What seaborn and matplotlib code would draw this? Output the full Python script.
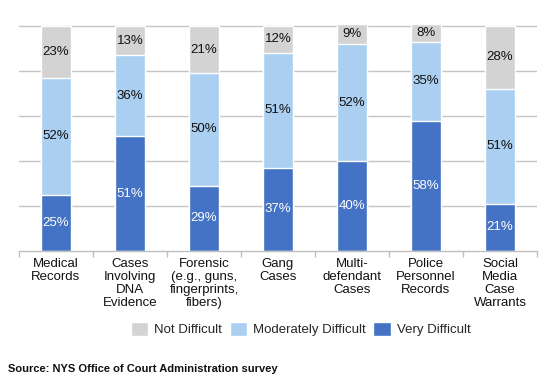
import numpy as np
import matplotlib
matplotlib.use("Agg")
import matplotlib.pyplot as plt
from matplotlib.patches import Patch
import pandas as pd
import seaborn as sns

categories = ["Medical\nRecords", "Cases\nInvolving\nDNA\nEvidence",
              "Forensic\n(e.g., guns,\nfingerprints,\nfibers)", "Gang\nCases",
              "Multi-\ndefendant\nCases", "Police\nPersonnel\nRecords",
              "Social\nMedia\nCase\nWarrants"]
very = [25, 51, 29, 37, 40, 58, 21]
moderate = [52, 36, 50, 51, 52, 35, 51]
not_diff = [23, 13, 21, 12, 9, 8, 28]

c_not = "#D3D3D3"
c_mod = "#AACFF0"
c_very = "#4472C4"

df = pd.DataFrame({"cat": categories, "very": very, "moderate": moderate, "not": not_diff})
df["cum_mod"] = df["very"] + df["moderate"]
df["cum_not"] = df["cum_mod"] + df["not"]

sns.set_theme(style="white")
plt.rcParams["font.family"] = ["Liberation Sans", "DejaVu Sans"]

fig = plt.figure(figsize=(5.55, 3.82), dpi=100)
ax = fig.add_axes([19/555, 1-251/382, 518/555, (251-21.5)/382])

# stacked bars drawn as cumulative layers, tallest first
sns.barplot(data=df, x="cat", y="cum_not", color=c_not, width=0.4, saturation=1,
            errorbar=None, ax=ax)
sns.barplot(data=df, x="cat", y="cum_mod", color=c_mod, width=0.4, saturation=1,
            errorbar=None, ax=ax)
sns.barplot(data=df, x="cat", y="very", color=c_very, width=0.4, saturation=1,
            errorbar=None, ax=ax)

# segment labels
for i, row in df.iterrows():
    ax.text(i, row["very"]/2, f"{row['very']}%", ha="center", va="center",
            color="white", fontsize=9.5)
    ax.text(i, row["very"] + row["moderate"]/2, f"{row['moderate']}%", ha="center",
            va="center", color="#111111", fontsize=9.5)
    ax.text(i, row["cum_mod"] + row["not"]/2, f"{row['not']}%", ha="center",
            va="center", color="#111111", fontsize=9.5)

ax.set_ylim(0, 102)
ax.set_xlim(-0.5, len(categories) - 0.5)
ax.set_yticks([])
for y in [20, 40, 60, 80, 100]:
    ax.axhline(y, color="#c4c4c4", lw=1, zorder=0)
ax.set_axisbelow(True)

for s in ["top", "right", "left"]:
    ax.spines[s].set_visible(False)
ax.spines["bottom"].set_color("#bfbfbf")
ax.spines["bottom"].set_linewidth(1)

ax.set_xlabel("")
ax.set_ylabel("")
ax.set_xticks(range(len(categories)))
ax.set_xticklabels(categories, fontsize=9.5, linespacing=1.12, color="#111111")
ax.set_xticks(np.arange(-0.5, len(categories)), minor=True)
ax.tick_params(axis="x", which="major", length=0, pad=5)
ax.tick_params(axis="x", which="minor", length=4, width=1, color="#bfbfbf", bottom=True)

handles = [Patch(facecolor=c_not, label="Not Difficult"),
           Patch(facecolor=c_mod, label="Moderately Difficult"),
           Patch(facecolor=c_very, label="Very Difficult")]
fig.legend(handles=handles, loc="center", bbox_to_anchor=(0.542, 0.139), ncol=3,
           frameon=False, fontsize=9.5, handlelength=1.3, handleheight=1.3,
           handletextpad=0.5, columnspacing=0.55)

fig.text(8/555, 1-369/382, "Source: NYS Office of Court Administration survey",
         ha="left", va="center", fontsize=8, fontweight="bold", color="#111111")

fig.savefig("out.png", dpi=100)
